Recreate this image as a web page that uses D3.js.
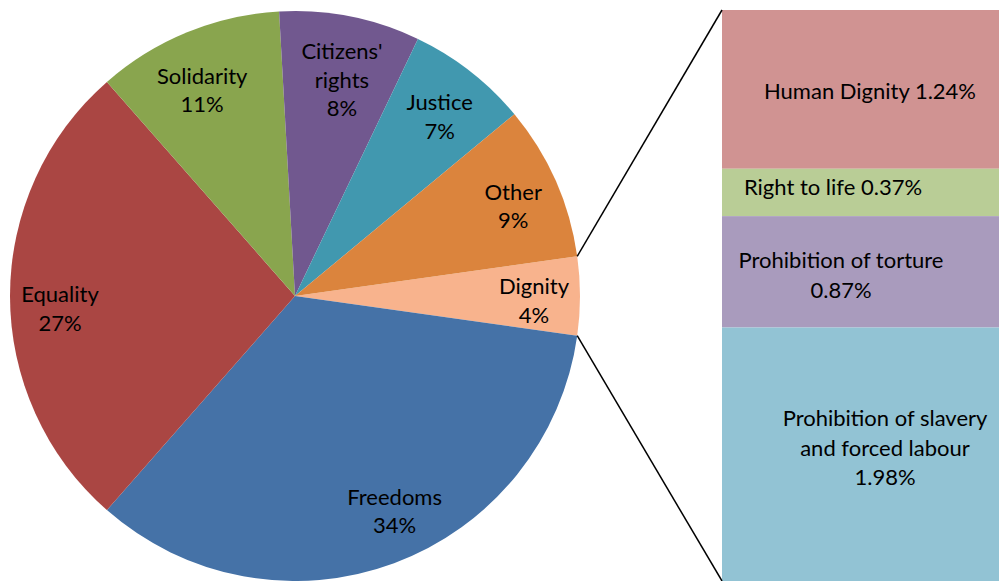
<!DOCTYPE html>
<html>
<head>
<meta charset="utf-8">
<script src="https://cdn.jsdelivr.net/npm/d3@7"></script>
<style>
  body { margin: 0; background: #fff; }
  text { font-family: Lato, "Open Sans", sans-serif; font-size: 22px; fill: #000; }
</style>
</head>
<body>
<div id="chart"></div>
<script>
let width = 999;
let height = 581;

// pie slices (percent of articles)
let sliceNames = ["Dignity", "Freedoms", "Equality", "Solidarity", "Citizens' rights", "Justice", "Other"];
let sliceValues = [4.46, 34.3, 27.1, 10.6, 8.0, 6.9, 8.8];
let sliceLabels = [["Dignity", "4%"], ["Freedoms", "34%"], ["Equality", "27%"], ["Solidarity", "11%"],
                   ["Citizens'", "rights", "8%"], ["Justice", "7%"], ["Other", "9%"]];
let sliceColors = ["#f8b38d", "#4572a7", "#aa4643", "#89a54e", "#71588f", "#4198af", "#db843d"];

// breakdown of Dignity into the bar
let barNames = ["Human Dignity", "Right to life", "Prohibition of torture", "Prohibition of slavery and forced labour"];
let barValues = [1.24, 0.37, 0.87, 1.98];
let barLabels = [["Human Dignity 1.24%"], ["Right to life 0.37%"], ["Prohibition of torture", "0.87%"],
                 ["Prohibition of slavery", "and forced labour", "1.98%"]];
let barColors = ["#d09392", "#b9cd96", "#a99bbd", "#92c3d4"];

let cx = 295, cy = 296, r = 285;

let svg = d3.select("#chart").append("svg")
  .attr("width", width)
  .attr("height", height);

let total = d3.sum(sliceValues);
let dignitySpan = sliceValues[0] / total * 2 * Math.PI;

let pie = d3.pie().sort(null)
  .startAngle(Math.PI / 2 - dignitySpan / 2)
  .endAngle(Math.PI / 2 - dignitySpan / 2 + 2 * Math.PI);

let arcs = pie(sliceValues);
let arc = d3.arc().innerRadius(0).outerRadius(r);
let labelArc = d3.arc().innerRadius(232).outerRadius(232);

let g = svg.append("g").attr("transform", "translate(" + cx + "," + cy + ")");

g.selectAll("path")
  .data(arcs)
  .enter()
  .append("path")
  .attr("d", arc)
  .attr("fill", (d, i) => sliceColors[i]);

// small nudges so labels sit like excel's "best fit"
let nudge = [[7, 5], [19, -2], [-3, 13], [-5, 9], [2, 12], [2, 4], [6, 4]];
let lineH = 28.5;
g.selectAll(".lbl")
  .data(arcs)
  .enter()
  .append("text")
  .attr("class", "lbl")
  .attr("text-anchor", "middle")
  .each(function(d, i) {
    let c = labelArc.centroid(d);
    let lines = sliceLabels[i];
    let t = d3.select(this);
    lines.forEach((s, j) => {
      t.append("tspan")
        .attr("x", c[0] + nudge[i][0])
        .attr("y", c[1] + nudge[i][1] + (j - (lines.length - 1) / 2) * lineH + 7.5)
        .text(s);
    });
  });

// stacked bar
let barX0 = 722, barX1 = 999;
let y = d3.scaleLinear().domain([0, d3.sum(barValues)]).range([10, 581]);
let cum = d3.cumsum(barValues);
let segs = barValues.map((v, i) => ({ v: v, y0: cum[i] - v, y1: cum[i], i: i }));

svg.selectAll(".seg")
  .data(segs)
  .enter()
  .append("rect")
  .attr("class", "seg")
  .attr("x", barX0)
  .attr("width", barX1 - barX0)
  .attr("y", d => y(d.y0))
  .attr("height", d => y(d.y1) - y(d.y0))
  .attr("fill", d => barColors[d.i]);

// label centres inside bar
let barLabelX = [870, 833, 841, 885];
let barLabelY = [0.51, 0.38, 0.53, 0.475];
svg.selectAll(".blbl")
  .data(segs)
  .enter()
  .append("text")
  .attr("class", "blbl")
  .attr("text-anchor", "middle")
  .each(function(d) {
    let lines = barLabels[d.i];
    let t = d3.select(this);
    let mid = y(d.y0) + (y(d.y1) - y(d.y0)) * barLabelY[d.i];
    lines.forEach((s, j) => {
      t.append("tspan")
        .attr("x", barLabelX[d.i])
        .attr("y", mid + (j - (lines.length - 1) / 2) * 29.5 + 8)
        .text(s);
    });
  });

// connector lines from the Dignity slice to the bar
let dg = arcs[0];
let p0 = [cx + r * Math.sin(dg.startAngle), cy - r * Math.cos(dg.startAngle)];
let p1 = [cx + r * Math.sin(dg.endAngle), cy - r * Math.cos(dg.endAngle)];
svg.append("line")
  .attr("x1", p0[0]).attr("y1", p0[1])
  .attr("x2", barX0).attr("y2", y(0))
  .attr("stroke", "#000").attr("stroke-width", 1.5);
svg.append("line")
  .attr("x1", p1[0]).attr("y1", p1[1])
  .attr("x2", barX0).attr("y2", y(d3.sum(barValues)))
  .attr("stroke", "#000").attr("stroke-width", 1.5);
</script>
</body>
</html>
